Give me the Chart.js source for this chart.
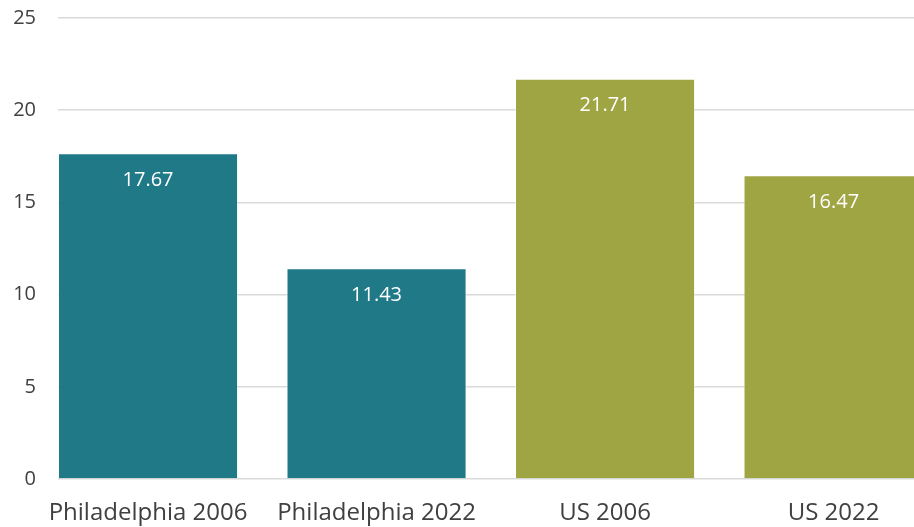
<!DOCTYPE html>
<html>
<head>
    <title>Philadelphia vs US</title>
    <script src="https://cdn.jsdelivr.net/npm/chart.js@4"></script>
    <style>
        html, body { margin: 0; padding: 0; background: #fff; }
        .chart-container { width: 914px; height: 527px; }
    </style>
</head>
<body>
    <div class="chart-container">
        <canvas id="barChart"></canvas>
    </div>

    <script>
    // chart data
    const categories = ['Philadelphia 2006', 'Philadelphia 2022', 'US 2006', 'US 2022'];
    const values = [17.67, 11.43, 21.71, 16.47];
    const barColors = ['#1f7987', '#1f7987', '#a0a544', '#a0a544'];
    const yTicks = [0, 5, 10, 15, 20, 25];

    const fontFamily = "'Open Sans', sans-serif";

    // white value labels inside the top of each bar
    const valueLabels = {
        id: 'valueLabels',
        afterDatasetsDraw(chart) {
            const ctx = chart.ctx;
            const meta = chart.getDatasetMeta(0);
            ctx.save();
            ctx.fillStyle = '#ffffff';
            ctx.font = '20px ' + fontFamily;
            ctx.textAlign = 'center';
            ctx.textBaseline = 'middle';
            meta.data.forEach((bar, i) => {
                ctx.fillText(values[i].toFixed(2), bar.x, bar.y + 27);
            });
            ctx.restore();
        }
    };

    const ctx = document.getElementById('barChart').getContext('2d');
    new Chart(ctx, {
        type: 'bar',
        data: {
            datasets: [{
                data: values.map((v, i) => ({ x: i, y: v })),
                backgroundColor: barColors,
                borderColor: 'rgba(255,255,255,0.5)',
                borderWidth: 1,
                barPercentage: 0.788,
                categoryPercentage: 1
            }]
        },
        options: {
            responsive: true,
            maintainAspectRatio: false,
            animation: false,
            layout: { padding: { top: 18, right: 0, left: 0, bottom: 0 } },
            plugins: {
                legend: { display: false },
                tooltip: { enabled: false }
            },
            scales: {
                x: {
                    type: 'linear',
                    offset: false,
                    min: -0.394,
                    max: 3.352,
                    grid: { display: false },
                    border: { display: false },
                    afterBuildTicks: axis => {
                        axis.ticks = categories.map((c, i) => ({ value: i }));
                    },
                    afterFit: axis => {
                        axis.height = 48;
                        axis.paddingLeft = 0;
                        axis.paddingRight = 0;
                    },
                    ticks: {
                        autoSkip: false,
                        maxRotation: 0,
                        padding: 12,
                        color: '#404040',
                        font: { family: fontFamily, size: 24 },
                        callback: v => categories[v]
                    }
                },
                y: {
                    min: 0,
                    max: 25,
                    afterBuildTicks: axis => {
                        axis.ticks = yTicks.map(v => ({ value: v }));
                    },
                    afterFit: axis => {
                        axis.width = 58;
                        axis.paddingTop = 0;
                        axis.paddingBottom = 0;
                    },
                    grid: {
                        color: '#dadada',
                        lineWidth: 1.5,
                        drawTicks: false
                    },
                    border: { display: false },
                    ticks: {
                        padding: 22,
                        color: '#404040',
                        font: { family: fontFamily, size: 20 }
                    }
                }
            }
        },
        plugins: [valueLabels]
    });
    </script>
</body>
</html>
